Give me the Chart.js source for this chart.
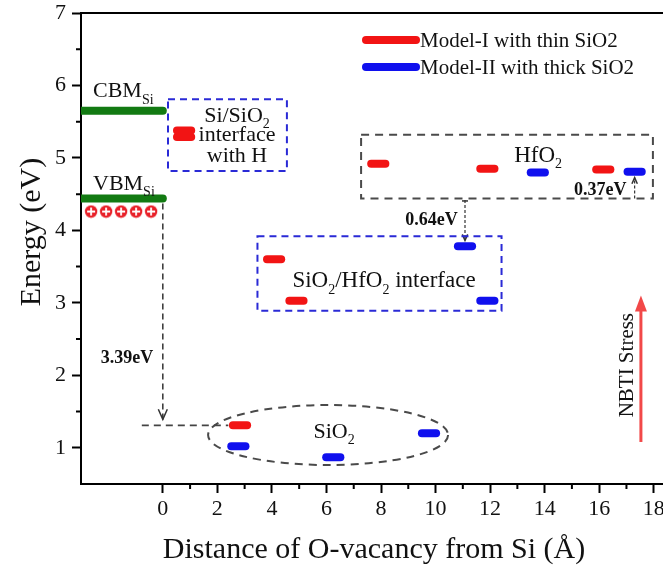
<!DOCTYPE html>
<html>
<head>
<meta charset="utf-8">
<script src="https://cdn.jsdelivr.net/npm/chart.js@4.4.1/dist/chart.umd.min.js"></script>
<style>
  html, body { margin: 0; padding: 0; background: #fff; overflow: hidden; }
  #wrap { position: relative; width: 700px; height: 571px; }
</style>
</head>
<body>
<div id="wrap"><canvas id="levels"></canvas></div>
<script>
const SERIF = "'Liberation Serif', 'Times New Roman', Times, serif";

// defect levels: distance of the O vacancy from Si (Å) and energy (eV)
const model1X = [0.78, 0.78, 7.9, 11.9, 16.15, 4.08, 4.9, 2.83];
const model1E = [5.38, 5.29, 4.92, 4.85, 4.84, 3.60, 3.03, 1.31];
const model2X = [13.75, 17.3, 11.08, 11.9, 2.77, 6.25, 9.76];
const model2E = [4.80, 4.81, 3.78, 3.03, 1.02, 0.87, 1.20];
const seriesNames = ['Model-I with thin SiO2', 'Model-II with thick SiO2'];

// Si band edges, from the left axis to the interface
const bandNames = ['CBM', 'VBM'];
const bandE = [5.65, 4.44];
const siX = [-3, 0];

// holes just under the valence band
const holeX = [-2.63, -2.08, -1.53, -0.98, -0.43];
const holeE = [4.26, 4.26, 4.26, 4.26, 4.26];

const xTicks = [0, 2, 4, 6, 8, 10, 12, 14, 16, 18];
const yTicks = [1, 2, 3, 4, 5, 6, 7];

// energy gaps marked with arrows
const gapHfO2 = 0.37;
const gapInterface = 0.64;
const gapSiO2 = 3.39;

const RED = '#f21414';
const BLUE = '#1010ee';
const GREEN = '#127a12';
const HALF = 0.26;

function levelSets(xs, es, color) {
    return xs.map((v, i) => ({
        data: [{x: v - HALF, y: es[i]}, {x: v + HALF, y: es[i]}],
        borderColor: color,
        borderWidth: 8,
        borderCapStyle: 'round',
        pointRadius: 0,
        showLine: true
    }));
}

const bandSets = bandE.map(e => ({
    data: siX.map(v => ({x: v, y: e})),
    borderColor: GREEN,
    borderWidth: 8,
    borderCapStyle: 'round',
    pointRadius: 0,
    showLine: true,
    clip: 0
}));

// red circle with a white plus for the holes
const holeImg = document.createElement('canvas');
holeImg.width = holeImg.height = 14;
(function() {
    const c = holeImg.getContext('2d');
    c.fillStyle = '#e82028';
    c.beginPath();
    c.arc(7, 7, 6.2, 0, Math.PI * 2);
    c.fill();
    c.strokeStyle = '#fff';
    c.lineWidth = 1.8;
    c.beginPath();
    c.moveTo(3, 7); c.lineTo(11, 7);
    c.moveTo(7, 3); c.lineTo(7, 11);
    c.stroke();
})();

const holeSet = {
    data: holeX.map((v, i) => ({x: v, y: holeE[i]})),
    pointStyle: holeImg,
    pointRadius: 7,
    showLine: false
};

function rich(ctx, parts, x, y, size, align, weight) {
    const subSize = Math.round(size * 0.62);
    const fontFor = sub => (weight || '') + ' ' + (sub ? subSize : size) + 'px ' + SERIF;
    const widths = parts.map(([t, sub]) => { ctx.font = fontFor(sub); return ctx.measureText(t).width; });
    const total = widths.reduce((a, b) => a + b, 0);
    let cx = align === 'center' ? x - total / 2 : x;
    ctx.textAlign = 'left';
    ctx.textBaseline = 'alphabetic';
    parts.forEach(([t, sub], i) => {
        ctx.font = fontFor(sub);
        ctx.fillText(t, cx, sub ? y + size * 0.3 : y);
        cx += widths[i];
    });
}

function dashedRect(ctx, x0, y0, x1, y1, color, dash) {
    ctx.strokeStyle = color;
    ctx.lineWidth = 2;
    ctx.setLineDash(dash);
    ctx.strokeRect(x0, y0, x1 - x0, y1 - y0);
}

function dashedLine(ctx, pts, color, width, dash) {
    ctx.strokeStyle = color;
    ctx.lineWidth = width;
    ctx.setLineDash(dash);
    ctx.beginPath();
    pts.forEach(([a, b], i) => i ? ctx.lineTo(a, b) : ctx.moveTo(a, b));
    ctx.stroke();
    ctx.setLineDash([]);
}

function arrowHead(ctx, x, y, dir, size, color, filled) {
    // dir = -1 points up, 1 points down
    ctx.setLineDash([]);
    ctx.strokeStyle = color;
    ctx.fillStyle = color;
    ctx.lineWidth = 1.5;
    ctx.beginPath();
    ctx.moveTo(x - size * 0.45, y - dir * size);
    ctx.lineTo(x, y);
    ctx.lineTo(x + size * 0.45, y - dir * size);
    if (filled) { ctx.closePath(); ctx.fill(); } else { ctx.stroke(); }
}

const annotations = {
    id: 'annotations',
    afterDatasetsDraw(chart) {
        const {ctx, chartArea: a, scales: {x, y}} = chart;
        const px = v => x.getPixelForValue(v);
        const py = v => y.getPixelForValue(v);
        ctx.save();

        // frame along the top
        ctx.strokeStyle = '#000';
        ctx.lineWidth = 2;
        ctx.beginPath();
        ctx.moveTo(a.left, a.top);
        ctx.lineTo(a.right, a.top);
        ctx.lineTo(a.right, a.bottom);
        ctx.stroke();

        // minor ticks
        ctx.lineWidth = 2;
        ctx.beginPath();
        for (let v = 1; v < 19; v += 2) {
            ctx.moveTo(px(v), a.bottom);
            ctx.lineTo(px(v), a.bottom + 5);
        }
        for (let v = 1.5; v < 7; v += 1) {
            ctx.moveTo(a.left, py(v));
            ctx.lineTo(a.left - 5, py(v));
        }
        ctx.stroke();

        ctx.fillStyle = '#111';

        // band edge labels
        rich(ctx, [[bandNames[0]], ['Si', true]], px(-2.56), py(bandE[0] + 0.19), 22);
        rich(ctx, [[bandNames[1]], ['Si', true]], px(-2.56), py(bandE[1] + 0.12), 22);

        // Si/SiO2 interface box
        dashedRect(ctx, px(0.19), py(5.81), px(4.55), py(4.82), '#2a2ad6', [7, 5]);
        ctx.fillStyle = '#111';
        rich(ctx, [['Si/SiO'], ['2', true]], px(2.72), py(5.50), 22, 'center');
        rich(ctx, [['interface']], px(2.72), py(5.23), 22, 'center');
        rich(ctx, [['with H']], px(2.72), py(4.94), 22, 'center');

        // HfO2 box
        const hfBottom = model2E[1] - gapHfO2;
        dashedRect(ctx, px(7.27), py(5.32), px(17.97), py(hfBottom), '#4a4a4a', [8, 6]);
        ctx.fillStyle = '#111';
        rich(ctx, [['HfO'], ['2', true]], px(13.76), py(4.95), 23, 'center');
        rich(ctx, [['0.37eV']], px(16.04), py(4.49), 18, 'center', 'bold');
        dashedLine(ctx, [[px(model2X[1]), py(hfBottom)], [px(model2X[1]), py(model2E[1]) + 6]], '#333', 1.2, [3, 2]);
        arrowHead(ctx, px(model2X[1]), py(model2E[1]) + 6, -1, 6, '#333', false);

        // HfO2 down to the interface level
        const gapTop = model2E[2] + gapInterface;
        ctx.fillStyle = '#111';
        rich(ctx, [['0.64eV']], px(9.85), py(4.08), 18, 'center', 'bold');
        dashedLine(ctx, [[px(model2X[2]), py(gapTop)], [px(model2X[2]), py(model2E[2]) - 6]], '#333', 1.2, [3, 2]);
        arrowHead(ctx, px(model2X[2]), py(model2E[2]) - 6, 1, 6, '#333', false);
        ctx.beginPath();
        ctx.moveTo(px(model2X[2]) - 3, py(gapTop) + 1);
        ctx.lineTo(px(model2X[2]) + 3, py(gapTop) + 1);
        ctx.stroke();

        // SiO2/HfO2 interface box
        dashedRect(ctx, px(3.47), py(3.92), px(12.42), py(2.89), '#2a2ad6', [7, 5]);
        ctx.fillStyle = '#111';
        rich(ctx, [['SiO'], ['2', true], ['/HfO'], ['2', true], [' interface']], px(8.11), py(3.22), 23, 'center');

        // SiO2 ellipse
        ctx.strokeStyle = '#4a4a4a';
        ctx.lineWidth = 2;
        ctx.setLineDash([8, 6]);
        ctx.beginPath();
        ctx.ellipse(px(6.06), py(1.176), px(6.06 + 4.4) - px(6.06), py(1.176) - py(1.176 + 0.414), 0, 0, Math.PI * 2);
        ctx.stroke();
        ctx.setLineDash([]);
        ctx.fillStyle = '#111';
        rich(ctx, [['SiO'], ['2', true]], px(6.28), py(1.14), 22, 'center');

        // from the Si valence band down into SiO2
        dashedLine(ctx, [[px(0), py(bandE[1]) + 5], [px(0), py(model1E[7]) - 2]], '#333', 1.5, [6, 4]);
        arrowHead(ctx, px(0), py(model1E[7]) - 6, 1, 10, '#333', false);
        dashedLine(ctx, [[px(-0.77), py(model1E[7])], [px(2.4), py(model1E[7])]], '#444', 1.8, [7, 5]);
        ctx.fillStyle = '#111';
        rich(ctx, [[gapSiO2.toFixed(2) + 'eV']], px(-1.31), py(2.17), 18, 'center', 'bold');

        // NBTI stress arrow
        const ax = px(17.53);
        ctx.strokeStyle = '#f24848';
        ctx.fillStyle = '#f24848';
        ctx.lineWidth = 3;
        ctx.beginPath();
        ctx.moveTo(ax, py(1.08));
        ctx.lineTo(ax, py(3.1) + 10);
        ctx.stroke();
        ctx.beginPath();
        ctx.moveTo(ax, py(3.1));
        ctx.lineTo(ax - 6, py(3.1) + 16);
        ctx.lineTo(ax + 6, py(3.1) + 16);
        ctx.closePath();
        ctx.fill();
        ctx.save();
        ctx.translate(px(17.02), py(2.14));
        ctx.rotate(-Math.PI / 2);
        ctx.fillStyle = '#111';
        ctx.font = '21px ' + SERIF;
        ctx.textAlign = 'center';
        ctx.textBaseline = 'middle';
        ctx.fillText('NBTI Stress', 0, 0);
        ctx.restore();

        // legend
        [RED, BLUE].forEach((c, i) => {
            const ly = 40 + i * 27;
            ctx.strokeStyle = c;
            ctx.lineWidth = 8;
            ctx.lineCap = 'round';
            ctx.beginPath();
            ctx.moveTo(366, ly);
            ctx.lineTo(416, ly);
            ctx.stroke();
            ctx.fillStyle = '#111';
            ctx.font = '21px ' + SERIF;
            ctx.textAlign = 'left';
            ctx.textBaseline = 'middle';
            ctx.fillText(seriesNames[i], 420, ly + 1);
        });

        // axis titles
        ctx.fillStyle = '#111';
        ctx.font = '30px ' + SERIF;
        ctx.textAlign = 'center';
        ctx.textBaseline = 'alphabetic';
        ctx.fillText('Distance of O-vacancy from Si (\u00c5)', 374, 558);
        ctx.save();
        ctx.translate(40, 232);
        ctx.rotate(-Math.PI / 2);
        ctx.fillText('Energy (eV)', 0, 0);
        ctx.restore();

        ctx.restore();
    }
};

new Chart(document.getElementById('levels'), {
    type: 'scatter',
    data: {
        datasets: [
            ...bandSets,
            holeSet,
            ...levelSets(model1X, model1E, RED),
            ...levelSets(model2X, model2E, BLUE)
        ]
    },
    options: {
        responsive: true,
        maintainAspectRatio: false,
        animation: false,
        layout: {padding: {top: 13, right: 19, left: 0, bottom: 0}},
        plugins: {
            legend: {display: false},
            tooltip: {enabled: false}
        },
        scales: {
            x: {
                type: 'linear',
                min: -3,
                max: 19,
                afterBuildTicks: s => { s.ticks = xTicks.map(v => ({value: v})); },
                afterFit: s => { s.height = 87; },
                grid: {drawOnChartArea: false, drawTicks: true, tickLength: 9, tickWidth: 2, tickColor: '#000'},
                border: {display: true, color: '#000', width: 2},
                ticks: {
                    font: {family: SERIF, size: 22},
                    color: '#111',
                    padding: 3,
                    maxRotation: 0,
                    autoSkip: false
                }
            },
            y: {
                type: 'linear',
                min: 0.5,
                max: 7,
                afterBuildTicks: s => { s.ticks = yTicks.map(v => ({value: v})); },
                afterFit: s => { s.width = 81; s.paddingTop = 0; s.paddingBottom = 0; },
                grid: {drawOnChartArea: false, drawTicks: true, tickLength: 9, tickWidth: 2, tickColor: '#000'},
                border: {display: true, color: '#000', width: 2},
                ticks: {
                    font: {family: SERIF, size: 22, lineHeight: 1},
                    color: '#111',
                    padding: 6,
                    autoSkip: false
                }
            }
        }
    },
    plugins: [annotations]
});
</script>
</body>
</html>
